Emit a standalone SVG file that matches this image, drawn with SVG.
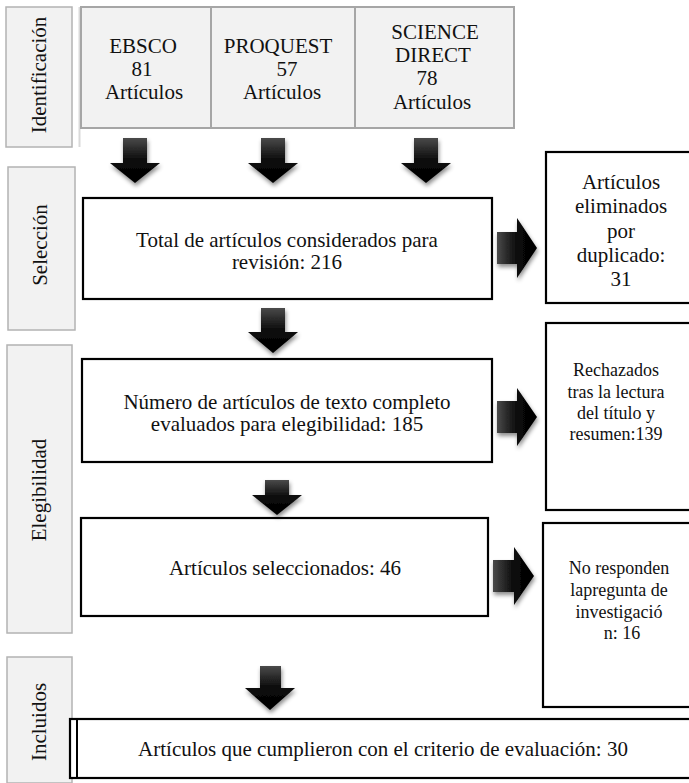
<svg xmlns="http://www.w3.org/2000/svg" width="689" height="783" viewBox="0 0 689 783">
<style>
text{font-family:"Liberation Serif","Times New Roman",serif;fill:#111;text-anchor:middle}
.t21{font-size:21px}
.t18{font-size:18px}
.lab{fill:#f2f2f2;stroke:#b3b3b3;stroke-width:1.5}
.src{fill:#f2f2f2;stroke:#a6a6a6;stroke-width:2}
.box{fill:#fff;stroke:#000;stroke-width:2.2}
.arr{fill:url(#ag);filter:url(#sh)}
.arrR{fill:url(#agR);filter:url(#sh)}
</style>
<defs>
<linearGradient id="ag" x1="0" y1="0" x2="0" y2="1">
<stop offset="0" stop-color="#4a4a4a"/><stop offset="0.5" stop-color="#0a0a0a"/><stop offset="1" stop-color="#000"/>
</linearGradient>
<linearGradient id="agR" x1="0" y1="0" x2="1" y2="0">
<stop offset="0" stop-color="#4a4a4a"/><stop offset="0.5" stop-color="#0a0a0a"/><stop offset="1" stop-color="#000"/>
</linearGradient>
<filter id="sh" x="-30%" y="-30%" width="160%" height="160%">
<feDropShadow dx="1" dy="3" stdDeviation="2" flood-color="#000" flood-opacity="0.45"/>
</filter>
</defs>
<rect width="689" height="783" fill="#fff"/>

<g id="lbl-identificacion">
<rect class="lab" x="6" y="7" width="66" height="140"/>
<text class="t21" transform="translate(46,75) rotate(-90)">Identificación</text>
</g>
<g id="lbl-seleccion">
<rect class="lab" x="8" y="167" width="67" height="163"/>
<text class="t21" transform="translate(47,245) rotate(-90)">Selección</text>
</g>
<g id="lbl-elegibilidad">
<rect class="lab" x="7" y="345" width="65" height="288"/>
<text class="t21" transform="translate(46,490) rotate(-90)">Elegibilidad</text>
</g>
<g id="lbl-incluidos">
<rect class="lab" x="7" y="657" width="65" height="126"/>
<text class="t21" transform="translate(46,722) rotate(-90)">Incluidos</text>
</g>

<g id="sources">
<line x1="79.5" y1="7" x2="79.5" y2="147" stroke="#d9d9d9" stroke-width="2"/>
<rect class="src" x="81" y="7" width="433" height="121"/>
<line x1="211" y1="7" x2="211" y2="128" stroke="#a6a6a6" stroke-width="2"/>
<line x1="355" y1="7" x2="355" y2="128" stroke="#a6a6a6" stroke-width="2"/>
</g>
<g id="ebsco">
<text class="t21" x="143" y="53">EBSCO</text>
<text class="t21" x="142" y="76">81</text>
<text class="t21" x="144" y="99">Artículos</text>
</g>
<g id="proquest">
<text class="t21" x="278" y="53">PROQUEST</text>
<text class="t21" x="287" y="76">57</text>
<text class="t21" x="282" y="99">Artículos</text>
</g>
<g id="sciencedirect">
<text class="t21" x="435" y="39">SCIENCE</text>
<text class="t21" x="433" y="62">DIRECT</text>
<text class="t21" x="427" y="85">78</text>
<text class="t21" x="432" y="109">Artículos</text>
</g>

<g id="total">
<rect class="box" x="83" y="198" width="409" height="101"/>
<text class="t21" x="287" y="247">Total de artículos considerados para</text>
<text class="t21" x="287" y="269">revisión: 216</text>
</g>
<g id="duplicados">
<rect class="box" x="546" y="152" width="160" height="151"/>
<text class="t21" x="621" y="189">Artículos</text>
<text class="t21" x="621" y="213">eliminados</text>
<text class="t21" x="621" y="238">por</text>
<text class="t21" x="621" y="262">duplicado:</text>
<text class="t21" x="621" y="286">31</text>
</g>
<g id="numero">
<rect class="box" x="82" y="359" width="410" height="103"/>
<text class="t21" x="287" y="409">Número de artículos de texto completo</text>
<text class="t21" x="287" y="431">evaluados para elegibilidad: 185</text>
</g>
<g id="rechazados">
<rect class="box" x="546" y="323" width="160" height="187"/>
<text class="t18" x="616" y="376">Rechazados</text>
<text class="t18" x="616" y="398">tras la lectura</text>
<text class="t18" x="616" y="419">del título y</text>
<text class="t18" x="616" y="440">resumen:139</text>
</g>
<g id="seleccionados">
<rect class="box" x="81" y="518" width="407" height="98"/>
<text class="t21" x="285" y="575">Artículos seleccionados: 46</text>
</g>
<g id="noresponden">
<rect class="box" x="543" y="523" width="160" height="184"/>
<text class="t18" x="619" y="574">No responden</text>
<text class="t18" x="619" y="596">lapregunta de</text>
<text class="t18" x="619" y="618">investigació</text>
<text class="t18" x="622" y="639">n: 16</text>
</g>
<g id="final">
<rect class="box" x="70" y="719" width="630" height="59"/>
<line x1="77" y1="719" x2="77" y2="778" stroke="#000" stroke-width="2"/>
<text class="t21" x="383" y="756">Artículos que cumplieron con el criterio de evaluación: 30</text>
</g>

<g id="connectors">
<path class="arr" d="M123,138H147V163H160L135,183L110,163H123Z"/>
<path class="arr" d="M261,138H285V163H298L273,183L248,163H261Z"/>
<path class="arr" d="M414,138H438V163H451L426,183L401,163H414Z"/>
<path class="arr" d="M261,308H285V332H298L273,353L248,332H261Z"/>
<path class="arr" d="M265,480H289V495H302L277,515L252,495H265Z"/>
<path class="arr" d="M260,666H281V688H295L270,710L245,688H260Z"/>
<path class="arrR" d="M497,232H517V218L537,248L517,278V264H497Z"/>
<path class="arrR" d="M497,401H517V388L537,417L517,446V433H497Z"/>
<path class="arrR" d="M493,560H514V547L534,576L514,605V592H493Z"/>
</g>
</svg>
